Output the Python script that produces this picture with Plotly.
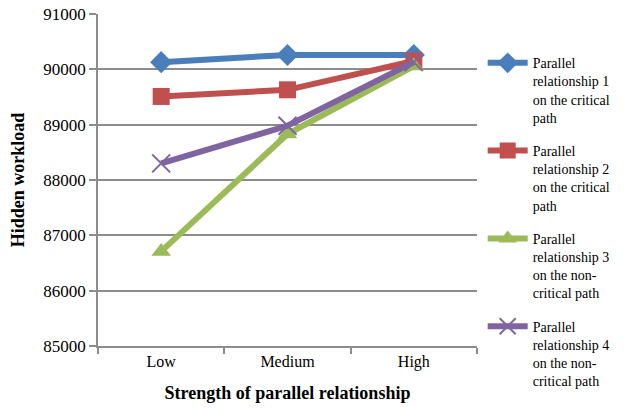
import plotly.graph_objects as go

categories = ["Low", "Medium", "High"]
rel1 = [90130, 90260, 90260]
rel2 = [89510, 89630, 90150]
rel3 = [86710, 88830, 90060]
rel4 = [88300, 88980, 90130]

names = [
    "Parallel<br>relationship 1<br>on the critical<br>path",
    "Parallel<br>relationship 2<br>on the critical<br>path",
    "Parallel<br>relationship 3<br>on the non-<br>critical path",
    "Parallel<br>relationship 4<br>on the non-<br>critical path",
]
colors = ["#4A7EBB", "#C0504D", "#9BBB59", "#8064A2"]
symbols = ["diamond", "square", "triangle-up", "x-thin-open"]
series = [rel1, rel2, rel3, rel4]

fig = go.Figure()
for i, (vals, name, col, sym) in enumerate(zip(series, names, colors, symbols)):
    marker = dict(symbol=sym, size=17, color=col)
    if sym == "x-thin-open":
        marker = dict(symbol=sym, size=18, color=col, line=dict(color=col, width=2))
    fig.add_trace(go.Scatter(
        x=categories, y=vals, name=name, mode="lines+markers",
        line=dict(color=col, width=6), marker=marker,
        legendgroup=f"g{i}",
    ))

serif = "Liberation Serif"
fig.update_layout(
    width=626, height=410,
    margin=dict(l=98, r=149, t=14, b=64, autoexpand=False),
    paper_bgcolor="white", plot_bgcolor="white",
    font=dict(family=serif, color="black"),
    showlegend=True,
    legend=dict(
        x=1.015, y=0.9, xanchor="left", yanchor="top",
        font=dict(family=serif, size=14, color="black"),
        valign="top", tracegroupgap=12, itemwidth=40,
        bgcolor="rgba(0,0,0,0)", maxheight=400,
    ),
    xaxis=dict(
        title=dict(text="<b>Strength of parallel relationship</b>",
                   font=dict(family=serif, size=18), standoff=16),
        tickfont=dict(family=serif, size=16),
        range=[-0.5, 2.5],
        showline=True, linecolor="#8c8c8c", linewidth=1.5,
        ticks="outside", ticklen=6, tickcolor="#8c8c8c", tickwidth=1.5,
        tickson="boundaries", showgrid=False,
    ),
    yaxis=dict(
        title=dict(text="<b>Hidden workload</b>",
                   font=dict(family=serif, size=18), standoff=14),
        range=[85000, 91000], dtick=1000, tickformat="d",
        tickfont=dict(family=serif, size=17),
        showline=True, linecolor="#8c8c8c", linewidth=1.5,
        ticks="outside", ticklen=7, tickcolor="#8c8c8c", tickwidth=1.5,
        showgrid=True, gridcolor="#8c8c8c", gridwidth=1.5,
        zeroline=False,
    ),
)

fig.write_html("out.html")
